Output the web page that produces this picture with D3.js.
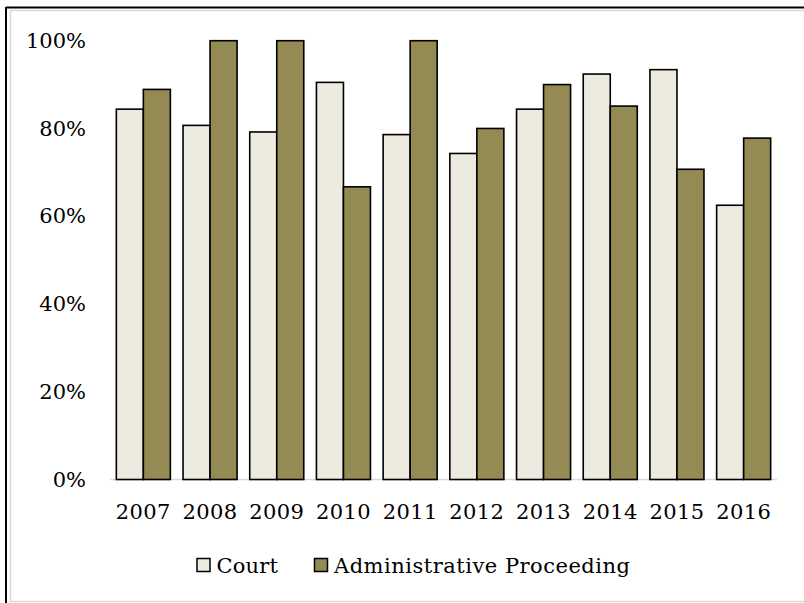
<!DOCTYPE html>
<html>
<head>
<meta charset="utf-8">
<script src="https://cdn.jsdelivr.net/npm/d3@7"></script>
<style>
  html, body { margin: 0; padding: 0; background: #fff; }
  svg { display: block; }
  text { font-family: "DejaVu Serif", serif; fill: #000; }
</style>
</head>
<body>
<svg id="chart" width="804" height="603"></svg>
<script>
const years = ["2007","2008","2009","2010","2011","2012","2013","2014","2015","2016"];
const court = [84.4, 80.7, 79.2, 90.5, 78.6, 74.3, 84.4, 92.4, 93.4, 62.5];
const admin = [88.9, 100, 100, 66.7, 100, 80.0, 90.0, 85.1, 70.7, 77.8];
const seriesNames = ["Court", "Administrative Proceeding"];
const seriesColors = ["#edebe0", "#948a54"];
const yTicks = [0, 20, 40, 60, 80, 100];

const svg = d3.select("#chart");

// outer frame: black left/top, grey inner border
svg.append("line").attr("x1", 6).attr("y1", 7.5).attr("x2", 804).attr("y2", 7.5)
  .attr("stroke", "#000").attr("stroke-width", 2);
svg.append("line").attr("x1", 6).attr("y1", 7).attr("x2", 6).attr("y2", 603)
  .attr("stroke", "#000").attr("stroke-width", 2);
svg.append("path").attr("d", "M804,10.5 H10.5 V601.5 H804")
  .attr("fill", "none").attr("stroke", "#d9d9d9").attr("stroke-width", 1.5);

const x0 = d3.scaleBand().domain(years).range([110, 777]).paddingInner(0.19).paddingOuter(0.095);
const x1 = d3.scaleBand().domain([0, 1]).range([0, x0.bandwidth()]);
const y = d3.scaleLinear().domain([0, 100]).range([479.5, 40.7]);

// baseline
svg.append("line").attr("x1", 110).attr("x2", 777).attr("y1", y(0)).attr("y2", y(0))
  .attr("stroke", "#d9d9d9").attr("stroke-width", 1.5);

// y axis labels
const yAxis = d3.axisLeft(y).tickValues(yTicks).tickFormat(d => d + "%").tickSize(0).tickPadding(0);
const gy = svg.append("g").attr("transform", "translate(86,0)").call(yAxis);
gy.select(".domain").remove();
gy.selectAll("text").attr("font-family", "DejaVu Serif").attr("font-size", 21).attr("fill", "#000");

// bars
const data = years.map((yr, i) => ({ yr, vals: [court[i], admin[i]] }));
const groups = svg.append("g").selectAll("g").data(data).join("g")
  .attr("transform", d => `translate(${x0(d.yr)},0)`);
groups.selectAll("rect").data(d => d.vals.map((v, k) => ({ v, k }))).join("rect")
  .attr("x", d => x1(d.k))
  .attr("y", d => y(d.v))
  .attr("width", x1.bandwidth())
  .attr("height", d => y(0) - y(d.v))
  .attr("fill", d => seriesColors[d.k])
  .attr("stroke", "#000")
  .attr("stroke-width", 1.6);

// x axis labels
const xAxis = d3.axisBottom(x0).tickSize(0).tickPadding(0);
const gx = svg.append("g").attr("transform", "translate(0,504)").call(xAxis);
gx.select(".domain").remove();
gx.selectAll("text").attr("font-family", "DejaVu Serif").attr("font-size", 21).attr("fill", "#000")
  .attr("letter-spacing", 0.4);

// legend
const legendItems = [
  { name: seriesNames[0], color: seriesColors[0], x: 197, ls: 0.2 },
  { name: seriesNames[1], color: seriesColors[1], x: 314.5, ls: 0.5 }
];
const lg = svg.append("g");
legendItems.forEach(it => {
  lg.append("rect").attr("x", it.x).attr("y", 558.5).attr("width", 13).attr("height", 13)
    .attr("fill", it.color).attr("stroke", "#000").attr("stroke-width", 1.5);
  lg.append("text").attr("x", it.x + 19.5).attr("y", 573)
    .attr("font-size", 21).attr("letter-spacing", it.ls).text(it.name);
});
</script>
</body>
</html>
